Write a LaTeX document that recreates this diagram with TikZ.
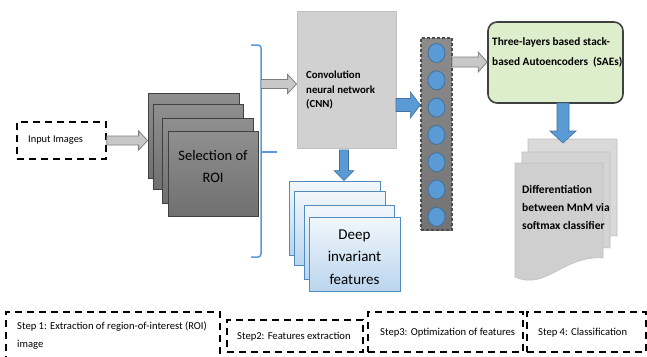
\documentclass[tikz,border=0pt]{standalone}
\usepackage{fontspec}
\setmainfont{Carlito}
\usetikzlibrary{calc}
\definecolor{blueA}{HTML}{5B9BD5}
\definecolor{blueB}{HTML}{41719C}
\definecolor{grayfill}{HTML}{C8C8C8}
\definecolor{grayline}{HTML}{7F7F7F}
\newcommand\blkR[6]{%
  \path[#1] let \p1=(#2), \p2=(#3) in
   (\x1,\y1+#4) -- (\x2-#6,\y1+#4) -- (\x2-#6,\y1+#5) -- (\x2,\y1) --
   (\x2-#6,\y1-#5) -- (\x2-#6,\y1-#4) -- (\x1,\y1-#4) -- cycle;}
\newcommand\blkD[6]{%
  \path[#1] let \p1=(#2), \p2=(#3) in
   (\x1-#4,\y1) -- (\x1-#4,\y2+#6) -- (\x1-#5,\y2+#6) -- (\x1,\y2) --
   (\x1+#5,\y2+#6) -- (\x1+#4,\y2+#6) -- (\x1+#4,\y1) -- cycle;}
\newcommand\docpage[5]{% x0 y0 x1 ybl ybr
  (#1,#2) -- (#3,#2) -- (#3,#5) .. controls ($(#1,#4)!0.55!(#3,#4)+(0,-22)$) and ($(#1,#4)!0.35!(#3,#4)+(0,14)$) .. (#1,#4) -- cycle}
\tikzset{
  stepbox/.style={draw=black, line width=1.6pt, dash pattern=on 7pt off 5pt, inner sep=0pt},
  roibox/.style={draw=black!75, line width=0.8pt, top color=black!44, bottom color=black!56, inner sep=0pt},
  deepbox/.style={draw=blueA!90!black, line width=0.9pt, top color=blueA!8, bottom color=blueA!42, inner sep=0pt},
  grayarr/.style={fill=grayfill, draw=grayline, line width=0.8pt},
  bluearr/.style={fill=blueA, draw=blueB, line width=0.6pt},
  neuron/.style={ellipse, fill=blueA, draw=blueB, line width=0.8pt, minimum width=17pt, minimum height=19pt, inner sep=0pt},
  steptext/.style={font=\fontsize{10.6}{18}\selectfont, inner sep=0pt, anchor=west},
}
\usetikzlibrary{shapes.geometric}
\begin{document}
\begin{tikzpicture}[x=1pt,y=-1pt]
\clip (0,0) rectangle (647,356);
\fill[white] (0,0) rectangle (647,356);

% input
\node[stepbox, minimum width=89pt, minimum height=37pt] (input) at (61.5,140.5) {};
\node[font=\fontsize{10.4}{12}\selectfont, anchor=west, inner sep=0pt] (inputtxt) at (28,140.5) {Input Images};

% ROI stack
\node[roibox, minimum width=91pt, minimum height=85pt] (roi1) at (193.5,135.5) {};
\node[roibox, minimum width=90pt, minimum height=85pt] (roi2) at (198,146.5) {};
\node[roibox, minimum width=91pt, minimum height=85pt] (roi3) at (207.5,160.5) {};
\node[roibox, minimum width=90pt, minimum height=85pt] (roi4) at (213,173.5) {};
\node[align=center, font=\fontsize{14.5}{22}\selectfont, inner sep=0pt] (roitxt) at (213,167) {Selection of\\ROI};
\blkR{grayarr}{input.east}{roi1.west |- input.east}{4.5}{9.5}{9}

% brace
\draw[blueA, line width=1.5pt, rounded corners=3pt] (251,45) -- (261,45) -- (261,257) -- (251,257);
\draw[blueA, line width=1.5pt] (261,152) -- (277,152);
\coordinate (bracept) at (261,84);

% CNN
\node[draw=black!25, fill=black!18, line width=0.8pt, minimum width=99pt, minimum height=137pt, inner sep=0pt] (cnn) at (346.5,79.5) {};
\node[font=\bfseries\fontsize{10.8}{14.5}\selectfont, align=left, anchor=north west, inner sep=0pt] (cnntxt) at (306,71) {Convolution\\neural network\\(CNN)};
\blkR{grayarr}{bracept}{cnn.west |- bracept}{4.5}{9.5}{9}

% deep features
\node[deepbox, minimum width=91pt, minimum height=74pt] (deep1) at (334.5,218) {};
\node[deepbox, minimum width=91pt, minimum height=74pt] (deep2) at (339.5,228) {};
\node[deepbox, minimum width=90pt, minimum height=74pt] (deep3) at (349,242) {};
\node[deepbox, minimum width=91pt, minimum height=74pt] (deep4) at (354.5,254) {};
\node[align=center, font=\fontsize{15}{22.5}\selectfont, inner sep=0pt] (deeptxt) at (354.5,257) {Deep\\invariant\\features};
\coordinate (cnnbot) at (344,150);
\blkD{bluearr}{cnnbot}{cnnbot |- deep1.north}{4.5}{10}{10}

% layer
\node[draw=black!70, line width=1.2pt, dash pattern=on 3pt off 2pt, top color=black!45, bottom color=black!55, minimum width=31pt, minimum height=192pt, inner sep=0pt] (layer) at (436.5,134) {};
\foreach \k in {0,...,6} {
  \node[neuron] (n\k) at (436.5,{53+27.3*\k}) {};
}
\coordinate (cnnout) at (396,105);
\blkR{bluearr}{cnnout}{layer.west |- cnnout}{6.5}{13}{10}

% SAE
\node[draw=black!75, line width=1.6pt, fill=green!35!olive!20!white, rounded corners=9pt, minimum width=135pt, minimum height=81pt, inner sep=0pt] (sae) at (555.5,62.5) {};
\node[font=\bfseries\fontsize{11.3}{20}\selectfont, align=left, anchor=north west, inner sep=0pt] (saetxt) at (492,37) {Three-layers based stack-\\based Autoencoders~~(SAEs)};
\coordinate (layerout) at (452,62);
\blkR{grayarr}{layerout}{sae.west |- layerout}{5}{10}{9}

% documents
\fill[black!15, draw=black!25, line width=0.6pt] \docpage{528}{139}{617}{254}{236};
\fill[black!17, draw=black!25, line width=0.6pt] \docpage{522}{152}{610}{266}{248};
\fill[black!19, draw=black!25, line width=0.6pt] \docpage{515}{163}{603}{277}{258};
\node[font=\bfseries\fontsize{11.5}{18}\selectfont, align=left, anchor=north west, inner sep=0pt] (doc) at (522,185) {Differentiation\\between MnM via\\softmax classifier};
\coordinate (saebot) at (563,103);
\coordinate (docin) at (563,143);
\blkD{bluearr}{saebot}{docin}{6}{13}{12}

% steps
\node[stepbox, minimum width=214pt, minimum height=56pt] (s1) at (113,340) {};
\node[steptext, align=left, anchor=north west] (s1t) at (17,321.5) {Step 1: Extraction of region-of-interest (ROI)\\image};
\node[stepbox, minimum width=136pt, minimum height=32pt] (s2) at (295,336) {};
\node[steptext] (s2t) at (237,336.5) {Step2: Features extraction};
\node[stepbox, minimum width=155pt, minimum height=40pt] (s3) at (445.5,332) {};
\node[steptext] (s3t) at (380,333) {Step3: Optimization of features};
\node[stepbox, minimum width=119pt, minimum height=40pt] (s4) at (586.5,332) {};
\node[steptext] (s4t) at (538,333) {Step 4: Classification};
\end{tikzpicture}
\end{document}
